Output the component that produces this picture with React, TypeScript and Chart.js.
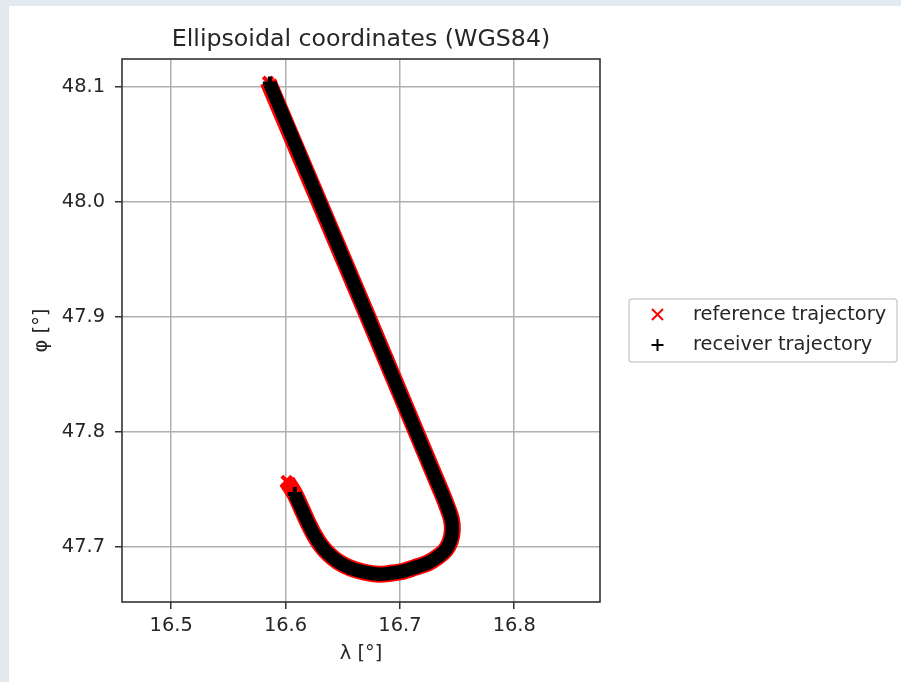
import { useEffect, useRef } from "react";
import { Chart, registerables } from "chart.js";

Chart.register(...registerables);

// ---- data ----
const titleText = "Ellipsoidal coordinates (WGS84)";
const xTitle = "λ [°]";
const yTitle = "φ [°]";
const seriesNames = ["reference trajectory", "receiver trajectory"];

const xTicks = [16.5, 16.6, 16.7, 16.8];
const yTicks = [47.7, 47.8, 47.9, 48.0, 48.1];
const xRange = [16.457, 16.875];
const yRange = [47.652, 48.124];

// reference trajectory (red x markers)
const refLon = [16.5848, 16.6709, 16.7319, 16.7371, 16.7415, 16.745, 16.7459, 16.7441, 16.7398, 16.7328, 16.7241, 16.7136, 16.7031, 16.6918, 16.6813, 16.6691, 16.6569, 16.6465, 16.6378, 16.6308, 16.6247, 16.6194, 16.6142, 16.6081, 16.6011];
const refLat = [48.1042, 47.9024, 47.758, 47.7458, 47.7345, 47.724, 47.7144, 47.7049, 47.697, 47.691, 47.6857, 47.6822, 47.6788, 47.677, 47.6762, 47.6779, 47.6814, 47.6866, 47.6936, 47.7014, 47.711, 47.7214, 47.7327, 47.7458, 47.7571];

// receiver trajectory (black + markers)
const rxLon = [16.5863, 16.6709, 16.7319, 16.7371, 16.7415, 16.745, 16.7459, 16.7441, 16.7398, 16.7328, 16.7241, 16.7136, 16.7031, 16.6918, 16.6813, 16.6691, 16.6569, 16.6465, 16.6378, 16.6308, 16.6247, 16.6194, 16.6142, 16.6081];
const rxLat = [48.1026, 47.9024, 47.758, 47.7458, 47.7345, 47.724, 47.7144, 47.7049, 47.697, 47.691, 47.6857, 47.6822, 47.6788, 47.677, 47.6762, 47.6779, 47.6814, 47.6866, 47.6936, 47.7014, 47.711, 47.7214, 47.7327, 47.7458];

const FONT = "DejaVu Sans";
const TXT = "#262626";

const toPts = (xs: number[], ys: number[]) => xs.map((x, i) => ({ x, y: ys[i] }));

// marker only at the two ends of a track
const endRadius = (r: number) => (c: any) => {
  const n = c.dataset.data.length;
  return c.dataIndex === 0 || c.dataIndex === n - 1 ? r : 0;
};

const framePlugin = {
  id: "frame",
  afterDatasetsDraw(chart: any) {
    const { ctx, chartArea: a } = chart;
    ctx.save();
    ctx.strokeStyle = "#333333";
    ctx.lineWidth = 1.6;
    ctx.strokeRect(a.left, a.top, a.right - a.left, a.bottom - a.top);
    ctx.restore();
  },
};

const legendPlugin = {
  id: "mplLegend",
  afterDraw(chart: any) {
    const { ctx } = chart;
    const ds = chart.data.datasets;
    ctx.save();
    const bx = 629, by = 299, bw = 268, bh = 63;
    ctx.beginPath();
    ctx.roundRect(bx, by, bw, bh, 3);
    ctx.fillStyle = "rgba(255,255,255,0.8)";
    ctx.fill();
    ctx.strokeStyle = "#d0d0d0";
    ctx.lineWidth = 1.5;
    ctx.stroke();

    const rows = [314.5, 345];
    ds.forEach((d: any, i: number) => {
      const cx = 657.5, cy = rows[i];
      const h = 5.5;
      ctx.strokeStyle = d.legendColor;
      ctx.lineWidth = 2;
      ctx.beginPath();
      if (d.legendStyle === "crossRot") {
        ctx.moveTo(cx - h, cy - h); ctx.lineTo(cx + h, cy + h);
        ctx.moveTo(cx + h, cy - h); ctx.lineTo(cx - h, cy + h);
      } else {
        ctx.moveTo(cx - 6, cy); ctx.lineTo(cx + 6, cy);
        ctx.moveTo(cx, cy - 6); ctx.lineTo(cx, cy + 6);
      }
      ctx.stroke();
      ctx.fillStyle = TXT;
      ctx.font = `19.4px "${FONT}"`;
      ctx.textAlign = "left";
      ctx.textBaseline = "middle";
      ctx.fillText(d.label, 693, cy);
    });
    ctx.restore();
  },
};

export default function App() {
  const ref = useRef<HTMLCanvasElement | null>(null);

  useEffect(() => {
    if (!ref.current) return;
    const tickFont = { family: FONT, size: 19.4 };
    const chart = new Chart(ref.current, {
      type: "scatter",
      data: {
        datasets: [
          {
            label: seriesNames[0],
            data: toPts(refLon, refLat),
            showLine: true,
            borderColor: "#ff0000",
            backgroundColor: "#ff0000",
            borderWidth: 17,
            tension: 0.4,
            pointStyle: "crossRot",
            pointRadius: endRadius(7),
            pointBorderWidth: 4,
            pointBorderColor: "#ff0000",
            pointHoverRadius: 0,
            borderCapStyle: "butt",
            borderJoinStyle: "round",
            order: 1,
            legendColor: "#ff0000",
            legendStyle: "crossRot",
          } as any,
          {
            label: seriesNames[1],
            data: toPts(rxLon, rxLat),
            showLine: true,
            borderColor: "#000000",
            backgroundColor: "#000000",
            borderWidth: 13.5,
            tension: 0.4,
            pointStyle: "cross",
            pointRadius: endRadius(7),
            pointBorderWidth: 4,
            pointBorderColor: "#000000",
            pointHoverRadius: 0,
            borderCapStyle: "butt",
            borderJoinStyle: "round",
            order: 0,
            legendColor: "#000000",
            legendStyle: "cross",
          } as any,
        ],
      },
      options: {
        responsive: false,
        animation: false,
        devicePixelRatio: 1,
        layout: { padding: { left: 0, top: 0, bottom: 0, right: 301 } },
        plugins: {
          legend: { display: false },
          tooltip: { enabled: false },
          title: { display: false },
        },
        scales: {
          x: {
            type: "linear",
            position: "bottom",
            min: xRange[0],
            max: xRange[1],
            afterBuildTicks: (s: any) => {
              s.ticks = xTicks.map((v) => ({ value: v }));
            },
            afterFit: (s: any) => {
              s.height = 80;
            },
            ticks: {
              font: tickFont,
              color: TXT,
              padding: 5,
              maxRotation: 0,
              callback: (v: any) => Number(v).toFixed(1),
            },
            grid: {
              color: "#b0b0b0",
              lineWidth: 1.5,
              tickLength: 7,
              tickColor: "#333333",
              tickWidth: 1.5,
            },
            border: { display: false },
            title: {
              display: true,
              text: xTitle,
              font: tickFont,
              color: TXT,
              padding: { top: 0, bottom: 16.4 },
            },
          },
          x2: {
            type: "linear",
            position: "top",
            min: xRange[0],
            max: xRange[1],
            afterFit: (s: any) => {
              s.height = 59;
            },
            ticks: { display: false },
            grid: { display: false },
            border: { display: false },
            title: {
              display: true,
              text: titleText,
              font: { family: FONT, size: 23.7 },
              color: TXT,
              padding: { top: 26, bottom: 0 },
            },
          },
          y: {
            type: "linear",
            position: "left",
            min: yRange[0],
            max: yRange[1],
            afterBuildTicks: (s: any) => {
              s.ticks = yTicks.map((v) => ({ value: v }));
            },
            afterFit: (s: any) => {
              s.width = 122;
            },
            ticks: {
              font: tickFont,
              color: TXT,
              padding: 10,
              callback: (v: any) => Number(v).toFixed(1),
            },
            grid: {
              color: "#b0b0b0",
              lineWidth: 1.5,
              tickLength: 7,
              tickColor: "#333333",
              tickWidth: 1.5,
            },
            border: { display: false },
            title: {
              display: true,
              text: yTitle,
              font: tickFont,
              color: TXT,
              padding: { top: 30.4, bottom: 0 },
            },
          },
        },
      },
      plugins: [framePlugin, legendPlugin],
    } as any);
    return () => chart.destroy();
  }, []);

  return (
    <div
      style={{
        position: "fixed",
        left: 0,
        top: 0,
        width: 901,
        height: 682,
        background: "#e3eaef",
        overflow: "hidden",
      }}
    >
      <div
        style={{
          position: "absolute",
          left: 9,
          top: 6,
          right: 0,
          bottom: 0,
          background: "#ffffff",
        }}
      />
      <canvas
        ref={ref}
        width={901}
        height={682}
        style={{ position: "absolute", left: 0, top: 0, width: 901, height: 682 }}
      />
    </div>
  );
}
